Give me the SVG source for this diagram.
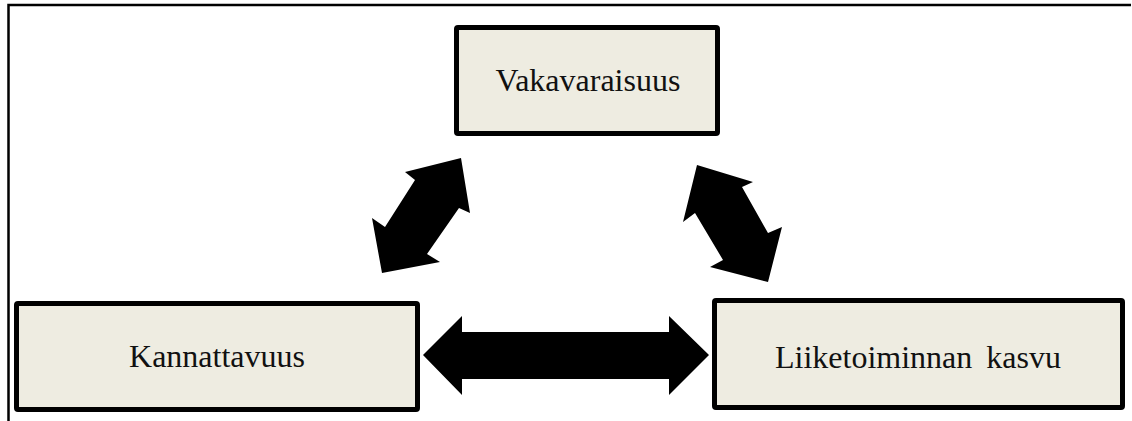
<svg xmlns="http://www.w3.org/2000/svg" width="1132" height="421" viewBox="0 0 1132 421">
<style>
.box{fill:#EEECE1;stroke:#000;stroke-width:5;}
.lbl{font-family:"Liberation Serif","Times New Roman",serif;font-size:32px;fill:#111;text-anchor:middle;}
.arr{fill:#000;stroke:none;}
.frame{stroke:#000;stroke-width:2.5;fill:none;}
</style>
<rect width="1132" height="421" fill="#fff"/>
<g id="frame">
<path class="frame" d="M8.5,421 V5 H1131"/>
</g>
<g id="connectors">
<polygon class="arr" points="423,355 462,316 462,332 669,332 669,316 709,355 669,395 669,379 462,379 462,395"/>
<polygon class="arr" points="461,158 470,213 459,208 427,254 440,262 382,273 372,218 385,227 415,180 405,172"/>
<polygon class="arr" points="697,165 753,182 742,187 768,233 782,227 768,282 710,267 723,260 695,213 683,222"/>
</g>
<g id="vakavaraisuus">
<rect class="box" x="456.5" y="27.5" width="261" height="106" rx="1.5"/>
<text class="lbl" x="588" y="91">Vakavaraisuus</text>
</g>
<g id="kannattavuus">
<rect class="box" x="16.5" y="303.5" width="401" height="106" rx="1.5"/>
<text class="lbl" x="217" y="367">Kannattavuus</text>
</g>
<g id="liiketoiminnan-kasvu">
<rect class="box" x="714.5" y="300.5" width="408" height="107" rx="1.5"/>
<text class="lbl" x="918" y="368" word-spacing="6">Liiketoiminnan kasvu</text>
</g>
</svg>
